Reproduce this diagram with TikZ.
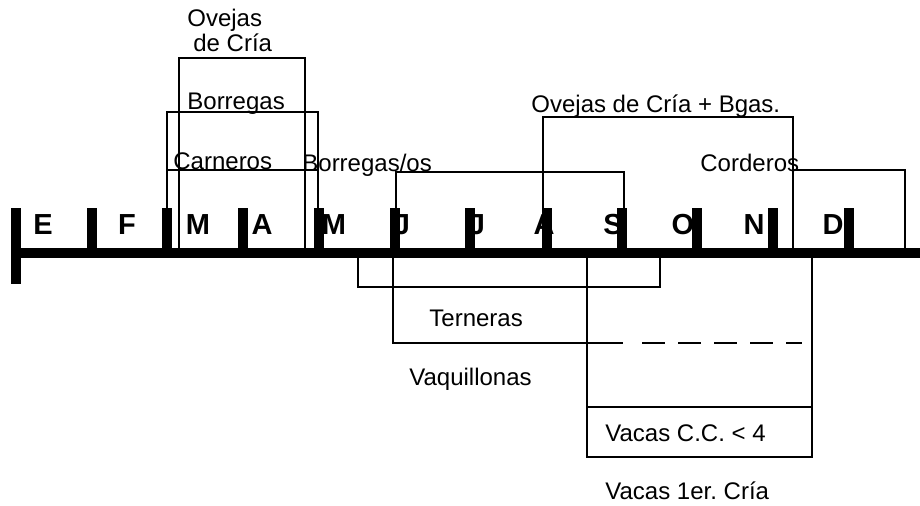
\documentclass[tikz,border=0pt]{standalone}
\usepackage{fontspec}
\setmainfont{Liberation Sans}
\usepackage{tikz}
\frenchspacing
\tikzstyle{mes} = [font=\bfseries\fontsize{14.5}{17}\selectfont, inner sep=0pt, anchor=base]
\tikzstyle{etiqueta} = [font=\fontsize{12}{14}\selectfont, inner sep=0pt, anchor=base west]
\tikzstyle{linea} = [line width=1.1pt]
\tikzstyle{barra} = [fill=black]

\begin{document}
\begin{tikzpicture}[x=0.5pt,y=-0.5pt]
    \useasboundingbox (0,0) rectangle (920,506);
    % meses
    \foreach \m/\x [count=\i] in {E/43,F/127,M/198,A/262,M/334,J/402,J/477,A/544,S/613,O/683,N/754,D/833}
        \node[mes] (mes\i) at (\x,235) {\m};
    % eje
    \coordinate (eje0) at (16,253);
    \coordinate (eje1) at (920,253);
    \draw[line width=5pt] (eje0) -- (eje1);
    \fill[barra] (11,208) rectangle (21,284);
    \foreach \x in {92,167,243,319,395,470,547,622,697,773,849}
        \fill[barra] (\x-5,208) rectangle (\x+5,248);
    % ovinos
    \node[etiqueta] (ovejas) at (187,27) {Ovejas};
    \node[etiqueta] (decria) at (193,52) {de Cría};
    \draw[linea] (179,248) |- (305,58) -- (305,248);
    \node[etiqueta] (borregas) at (187,110) {Borregas};
    \draw[linea] (167,248) |- (318,112) -- (318,248);
    \node[etiqueta] (carneros) at (173,170) {Carneros};
    \draw[linea] (167,170) -- (318,170);
    \node[etiqueta] (borregasos) at (302,172) {Borregas/os};
    \draw[linea] (396,248) |- (624,172) -- (624,248);
    \node[etiqueta] (ovejasbgas) at (531,113) {Ovejas de Cría + Bgas.};
    \draw[linea] (543,248) |- (793,117) -- (793,248);
    \node[etiqueta] (corderos) at (700,172) {Corderos};
    \draw[linea] (793,170) -| (905,248);
    % bovinos
    \draw[linea] (358,258) |- (660,287) -- (660,258);
    \node[etiqueta] (terneras) at (429,327) {Terneras};
    \draw[linea] (393,258) |- (623,343);
    \draw[linea, dash pattern=on 11.5pt off 6.5pt] (642,343) -- (802,343);
    \node[etiqueta] (vaquillonas) at (409,386) {Vaquillonas};
    \draw[linea] (587,258) |- (812,457) -- (812,258);
    \draw[linea] (587,407) -- (812,407);
    \node[etiqueta] (vacascc) at (605,442) {Vacas C.C. < 4};
    \node[etiqueta] (vacas1er) at (605,500) {Vacas 1er. Cría};
\end{tikzpicture}
\end{document}
